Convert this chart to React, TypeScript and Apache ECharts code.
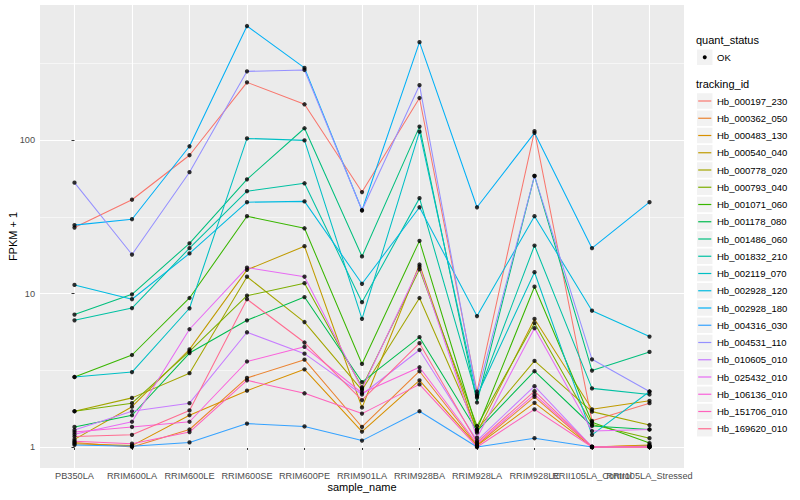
import React, { useEffect, useRef } from "react";
import * as echarts from "echarts";

const categories = [
  "PB350LA", "RRIM600LA", "RRIM600LE", "RRIM600SE", "RRIM600PE", "RRIM901LA",
  "RRIM928BA", "RRIM928LA", "RRIM928LE", "RRII105LA_Control", "RRII105LA_Stressed",
];

const trackingIds = [
  "Hb_000197_230", "Hb_000362_050", "Hb_000483_130", "Hb_000540_040", "Hb_000778_020",
  "Hb_000793_040", "Hb_001071_060", "Hb_001178_080", "Hb_001486_060", "Hb_001832_210",
  "Hb_002119_070", "Hb_002928_120", "Hb_002928_180", "Hb_004316_030", "Hb_004531_110",
  "Hb_010605_010", "Hb_025432_010", "Hb_106136_010", "Hb_151706_010", "Hb_169620_010",
];

const colors = [
  "#F8766D", "#EA8331", "#D89000", "#C09B00", "#A3A500", "#7CAE00", "#39B600", "#00BB4E",
  "#00BF7D", "#00C1A3", "#00BFC4", "#00BAE0", "#00B0F6", "#35A2FF", "#9590FF", "#C77CFF",
  "#E76BF3", "#FA62DB", "#FF62BC", "#FF6C91",
];

// FPKM + 1 per sample (order of categories)
const hb000197_230 = [27, 41, 80, 239, 172, 46, 189, 2.3, 115, 1.48, 1.93];
const hb000362_050 = [1.07, 1.0, 1.3, 2.82, 3.71, 1.35, 3.12, 1.03, 2.12, 1.0, 1.02];
const hb000483_130 = [1.05, 1.02, 1.61, 2.33, 3.21, 1.26, 2.72, 1.02, 1.94, 1.0, 1.03];
const hb000540_040 = [1.12, 1.83, 4.33, 14.3, 20.4, 1.81, 15.5, 1.24, 6.84, 1.76, 2.0];
const hb000778_020 = [1.71, 2.09, 3.03, 12.9, 6.53, 2.35, 9.37, 1.3, 3.64, 1.7, 1.39];
const hb000793_040 = [1.71, 1.93, 4.2, 9.7, 11.7, 2.45, 14.4, 1.37, 6.43, 1.4, 1.14];
const hb001071_060 = [2.86, 3.98, 9.37, 32, 26.7, 3.48, 22.1, 1.3, 11.1, 1.45, 1.06];
const hb001178_080 = [1.35, 1.61, 4.1, 6.7, 9.5, 2.65, 5.2, 1.27, 3.12, 1.37, 1.3];
const hb001486_060 = [7.3, 9.9, 21.3, 55.7, 120, 17.5, 123, 1.95, 58.6, 3.15, 4.17];
const hb001832_210 = [6.7, 8.05, 19.8, 46.6, 52.5, 8.8, 42, 2.1, 20.6, 2.41, 2.2];
const hb002119_070 = [2.86, 3.08, 8.03, 103, 100, 6.85, 114, 2.15, 13.8, 1.2, 2.3];
const hb002928_120 = [11.4, 9.2, 18.3, 39.5, 40, 11.6, 36.6, 7.14, 32, 7.74, 5.25];
const hb002928_180 = [28, 30.6, 91.5, 557, 297, 35, 437, 36.6, 112, 19.8, 39.5];
const hb004316_030 = [1.03, 1.01, 1.07, 1.42, 1.36, 1.1, 1.71, 1.0, 1.14, 1.0, 1.01];
const hb004531_110 = [53, 18, 62, 282, 288, 35, 229, 2.2, 58.6, 3.73, 2.3];
const hb010605_010 = [1.29, 1.71, 1.93, 5.6, 4.06, 2.2, 4.29, 1.1, 2.49, 1.0, 1.0];
const hb025432_010 = [1.21, 1.46, 5.86, 14.8, 12.9, 2.4, 15, 1.15, 5.95, 1.27, 1.3];
const hb106136_010 = [1.25, 1.35, 1.46, 3.61, 4.5, 2.25, 3.31, 1.05, 2.2, 1.0, 1.0];
const hb151706_010 = [1.09, 1.05, 1.25, 2.72, 2.24, 1.65, 2.56, 1.0, 1.76, 1.0, 1.0];
const hb169620_010 = [1.17, 1.2, 1.73, 9.2, 4.8, 2.02, 4.75, 1.07, 2.31, 1.0, 1.0];

const seriesValues = [
  hb000197_230, hb000362_050, hb000483_130, hb000540_040, hb000778_020,
  hb000793_040, hb001071_060, hb001178_080, hb001486_060, hb001832_210,
  hb002119_070, hb002928_120, hb002928_180, hb004316_030, hb004531_110,
  hb010605_010, hb025432_010, hb106136_010, hb151706_010, hb169620_010,
];

const yMajorTicks = [1, 10, 100];
const yMinorTicks = [Math.sqrt(10), Math.sqrt(1000), Math.sqrt(100000)];

const FONT = "'Liberation Sans', Arial, Helvetica, sans-serif";

export default function App() {
  const ref = useRef<HTMLDivElement>(null);

  useEffect(() => {
    if (!ref.current) return;
    const chart = echarts.init(ref.current, undefined, { renderer: "svg" });

    const all = seriesValues.flat();
    const lo = Math.log10(Math.min(...all));
    const hi = Math.log10(Math.max(...all));
    const pad = (hi - lo) * 0.05;
    const yMin = lo - pad;
    const yMax = hi + pad;
    const xMin = -0.6;
    const xMax = categories.length - 1 + 0.6;
    const xTicks = categories.map((_, i) => i);
    const xEven = xTicks.filter((i) => i % 2 === 0);
    const xOdd = xTicks.filter((i) => i % 2 === 1);

    const lineSeries = seriesValues.map((vals, si) => ({
      type: "line",
      name: trackingIds[si],
      data: vals.map((v, j) => [j, Math.log10(v)]),
      showSymbol: false,
      symbol: "none",
      lineStyle: { color: colors[si], width: 1.05 },
      itemStyle: { color: colors[si] },
      z: 2,
      silent: true,
    }));

    const pointData: number[][] = [];
    seriesValues.forEach((vals) => vals.forEach((v, j) => pointData.push([j, Math.log10(v)])));

    const legendX = 697;
    const keyW = 15.5;
    const firstKeyY = 101;
    const keyStep = 17.25;
    const graphics: any[] = [
      {
        type: "text", left: 696, top: 34,
        style: { text: "quant_status", font: `11px ${FONT}`, fill: "#000" },
      },
      { type: "rect", shape: { x: legendX, y: 49.5, width: keyW, height: keyW }, style: { fill: "#F2F2F2" } },
      { type: "circle", shape: { cx: legendX + keyW / 2, cy: 57.2, r: 2 }, style: { fill: "#000" } },
      {
        type: "text", x: 717, y: 57.2,
        style: { text: "OK", font: `9.5px ${FONT}`, fill: "#000", verticalAlign: "middle" },
      },
      {
        type: "text", left: 696, top: 78,
        style: { text: "tracking_id", font: `11px ${FONT}`, fill: "#000" },
      },
      {
        type: "text", x: 13, y: 236.5, rotation: Math.PI / 2,
        style: { text: "FPKM + 1", font: `11px ${FONT}`, fill: "#000", align: "center", verticalAlign: "middle" },
      },
      {
        type: "text", x: 362, y: 487,
        style: { text: "sample_name", font: `11px ${FONT}`, fill: "#000", align: "center", verticalAlign: "middle" },
      },
    ];
    trackingIds.forEach((id, i) => {
      const cy = firstKeyY + i * keyStep;
      graphics.push(
        { type: "rect", shape: { x: legendX, y: cy - keyW / 2, width: keyW, height: keyW }, style: { fill: "#F2F2F2" } },
        {
          type: "line", shape: { x1: legendX + 1.2, y1: cy, x2: legendX + keyW - 1.2, y2: cy },
          style: { stroke: colors[i], lineWidth: 1.2 },
        },
        {
          type: "text", x: 717, y: cy,
          style: { text: id, font: `9.5px ${FONT}`, fill: "#000", verticalAlign: "middle" },
        }
      );
    });

    const xLabelBase = {
      show: true, margin: 3, hideOverlap: false,
      formatter: (v: number) => categories[Math.round(v)] ?? "",
      color: "#4D4D4D", fontSize: 9.2, fontFamily: FONT,
    };

    const option: any = {
      animation: false,
      backgroundColor: "#FFFFFF",
      textStyle: { fontFamily: FONT },
      grid: {
        left: 40, right: 116, top: 5, bottom: 32,
        show: true, backgroundColor: "#EBEBEB", borderWidth: 0, containLabel: false,
      },
      xAxis: [
        {
          type: "value", min: xMin, max: xMax, position: "bottom",
          axisLine: { show: false },
          axisTick: { show: true, length: 3, customValues: xTicks, lineStyle: { color: "#333333", width: 1 } },
          axisLabel: { ...xLabelBase, customValues: xEven },
          splitLine: { show: true, lineStyle: { color: "#FFFFFF", width: 1.1 } },
          minorTick: { show: false },
        },
        {
          type: "value", min: xMin, max: xMax, position: "bottom", offset: 0,
          axisLine: { show: false },
          axisTick: { show: false, customValues: xOdd },
          axisLabel: { ...xLabelBase, customValues: xOdd },
          splitLine: { show: false },
          minorTick: { show: false },
        },
      ],
      yAxis: [
        {
          type: "value", min: yMin, max: yMax, position: "left",
          axisLine: { show: false },
          axisTick: {
            show: true, length: 3, customValues: yMajorTicks.map((v) => Math.log10(v)),
            lineStyle: { color: "#333333", width: 1 },
          },
          axisLabel: {
            show: true, customValues: yMajorTicks.map((v) => Math.log10(v)), margin: 5,
            formatter: (v: number) => String(Math.round(Math.pow(10, v))),
            color: "#4D4D4D", fontSize: 9.2, fontFamily: FONT,
          },
          splitLine: { show: true, lineStyle: { color: "#FFFFFF", width: 1.1 } },
          z: 1,
        },
        {
          type: "value", min: yMin, max: yMax, position: "left",
          axisLine: { show: false },
          axisTick: { show: false, customValues: yMinorTicks.map((v) => Math.log10(v)) },
          axisLabel: { show: false, customValues: yMinorTicks.map((v) => Math.log10(v)) },
          splitLine: { show: true, lineStyle: { color: "#FFFFFF", width: 0.55 } },
          z: 0,
        },
      ],
      series: [
        ...lineSeries,
        {
          type: "scatter",
          data: pointData,
          symbol: "circle",
          symbolSize: 4.3,
          itemStyle: { color: "#000000" },
          z: 5,
          silent: true,
        },
      ],
      graphic: graphics,
    };

    chart.setOption(option);
    return () => chart.dispose();
  }, []);

  return (
    <div
      ref={ref}
      style={{ position: "fixed", left: 0, top: 0, width: 800, height: 500, background: "#fff" }}
    />
  );
}
